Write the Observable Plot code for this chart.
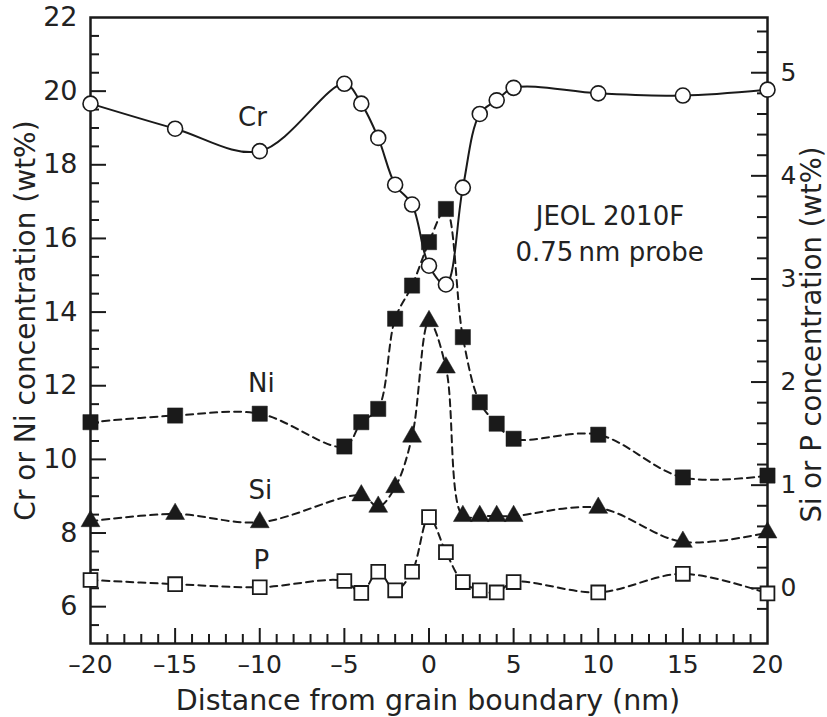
<!DOCTYPE html>
<html><head><meta charset="utf-8">
<script src="https://cdn.jsdelivr.net/npm/d3@7"></script>
<script src="https://cdn.jsdelivr.net/npm/@observablehq/plot@0.6"></script>
<style>html,body{margin:0;padding:0;background:#fff} #chart svg{display:block}</style>
</head><body><div id="chart"></div>
<script>
// ---- data ----
const crDistance = [-20,-15,-10,-5,-4,-3,-2,-1,0,1,2,3,4,5,10,15,20];
const crValues   = [19.66,18.98,18.37,20.20,19.66,18.73,17.46,16.92,15.26,14.75,17.38,19.38,19.75,20.09,19.94,19.88,20.04];
const niDistance = [-20,-15,-10,-5,-4,-3,-2,-1,0,1,2,3,4,5,10,15,20];
const niValues   = [11.01,11.19,11.24,10.35,11.01,11.37,13.82,14.72,15.90,16.80,13.32,11.55,10.97,10.56,10.67,9.51,9.56];
const siDistance = [-20,-15,-10,-4,-3,-2,-1,0,1,2,3,4,5,10,15,20];
const siValues   = [0.65,0.72,0.64,0.90,0.79,0.98,1.47,2.59,2.14,0.70,0.70,0.70,0.70,0.78,0.45,0.54];
const pDistance  = [-20,-15,-10,-5,-4,-3,-2,-1,0,1,2,3,4,5,10,15,20];
const pValues    = [0.08,0.04,0.01,0.07,-0.045,0.16,-0.02,0.16,0.69,0.35,0.06,-0.02,-0.04,0.06,-0.04,0.14,-0.05];

const xTickLabels = [-20,-15,-10,-5,0,5,10,15,20];
const leftTickLabels = [6,8,10,12,14,16,18,20,22];
const rightTickLabels = [0,1,2,3,4,5];

const seriesLabels = [
  {text: "Cr", x: -10.43, y: 19.28},
  {text: "Ni", x: -9.9, y: 12.06},
  {text: "Si", x: -9.96, y: 9.15},
  {text: "P",  x: -9.9, y: 7.25}
];
const noteLines = [
  {text: "JEOL 2010F", x: 10.69, y: 16.6},
  {text: "0.75\u2009nm probe", x: 10.67, y: 15.62}
];

const xTitle = "Distance from grain boundary (nm)";
const leftTitle = "Cr or Ni concentration (wt%)";
const rightTitle = "Si or P concentration (wt%)";

// right axis (Si, P) expressed on the left (Cr, Ni) scale
const rightToLeft = r => 6.5 + 2.8 * r;

const cr = crDistance.map((d, i) => ({d, v: crValues[i]}));
const ni = niDistance.map((d, i) => ({d, v: niValues[i]}));
const si = siDistance.map((d, i) => ({d, v: rightToLeft(siValues[i])}));
const p  = pDistance.map((d, i) => ({d, v: rightToLeft(pValues[i])}));

// minor / major tick positions
const leftMinor = d3.range(5.5, 22, 0.5).filter(v => Math.abs(v % 2) > 1e-6);
const leftMajor = leftTickLabels.filter(v => v < 22);
const xMinor = d3.range(-19, 20, 1).filter(v => v % 5 !== 0);
const xMajor = xTickLabels.filter(v => v > -20 && v < 20);
const rightMinor = d3.range(-1, 28).map(k => k * 0.2).filter(v => Math.abs(v - Math.round(v)) > 1e-6);
const rightMajor = rightTickLabels;

const W = 827, H = 717, mL = 90, mR = 60, mT = 17, mB = 74;
const fw = W - mL - mR, fh = H - mT - mB;
const ink = "#1a1a1a";

const chart = Plot.plot({
  width: W, height: H,
  marginLeft: mL, marginRight: mR, marginTop: mT, marginBottom: mB,
  x: {domain: [-20, 20]},
  y: {domain: [5, 22]},
  style: {fontFamily: "DejaVu Sans", background: "white", color: "#222"},
  marks: [
    // inward ticks
    Plot.tickY(leftMinor, {y: d => d, insetRight: fw - 9, stroke: ink, strokeWidth: 2}),
    Plot.tickY(leftMajor, {y: d => d, insetRight: fw - 16, stroke: ink, strokeWidth: 2}),
    Plot.tickY(rightMinor, {y: d => rightToLeft(d), insetLeft: fw - 10, stroke: ink, strokeWidth: 2}),
    Plot.tickY(rightMajor, {y: d => rightToLeft(d), insetLeft: fw - 16, stroke: ink, strokeWidth: 2}),
    Plot.tickX(xMinor, {x: d => d, insetTop: fh - 9, stroke: ink, strokeWidth: 2}),
    Plot.tickX(xMajor, {x: d => d, insetTop: fh - 15, stroke: ink, strokeWidth: 2}),
    Plot.frame({stroke: ink, strokeWidth: 2.5}),
    // tick labels
    Plot.axisX({ticks: xTickLabels, tickSize: 0, tickPadding: 12, fontSize: 25, label: null,
      tickFormat: d => d < 0 ? "\u2013" + Math.abs(d) : String(d)}),
    Plot.axisY({anchor: "left", ticks: leftTickLabels, tickSize: 0, tickPadding: 13, fontSize: 27, label: null}),
    Plot.axisY({anchor: "right", ticks: rightTickLabels.map(rightToLeft), tickSize: 0, tickPadding: 13, fontSize: 25, label: null,
      tickFormat: d => String(Math.round((d - 6.5) / 2.8))}),
    // axis titles
    Plot.text([xTitle], {frameAnchor: "bottom", text: d => d, dx: -1, dy: 57, fontSize: 28.5, lineAnchor: "middle", textAnchor: "middle"}),
    Plot.text([leftTitle], {frameAnchor: "left", text: d => d, rotate: -90, dx: -64, dy: -10, fontSize: 28, lineAnchor: "middle", textAnchor: "middle"}),
    Plot.text([rightTitle], {frameAnchor: "right", text: d => d, rotate: -90, dx: 45, dy: 4, fontSize: 27.5, lineAnchor: "middle", textAnchor: "middle"}),
    // lines
    Plot.line(cr, {x: "d", y: "v", curve: "catmull-rom", stroke: ink, strokeWidth: 2}),
    Plot.line(ni, {x: "d", y: "v", curve: "catmull-rom", stroke: ink, strokeWidth: 2, strokeDasharray: "7,5"}),
    Plot.line(si, {x: "d", y: "v", curve: "catmull-rom", stroke: ink, strokeWidth: 2, strokeDasharray: "7,5"}),
    Plot.line(p,  {x: "d", y: "v", curve: "catmull-rom", stroke: ink, strokeWidth: 2, strokeDasharray: "7,5"}),
    // markers
    Plot.dot(cr, {x: "d", y: "v", r: 7.5, fill: "white", stroke: ink, strokeWidth: 1.6}),
    Plot.dot(ni, {x: "d", y: "v", symbol: "square", r: 8.6, fill: ink, stroke: ink, strokeWidth: 0.5}),
    Plot.dot(si, {x: "d", y: "v", symbol: "triangle", r: 7, fill: ink, stroke: ink, strokeWidth: 0.5}),
    Plot.dot(p,  {x: "d", y: "v", symbol: "square", r: 7.8, fill: "white", stroke: ink, strokeWidth: 1.8}),
    // annotations
    Plot.text(seriesLabels, {x: "x", y: "y", text: "text", fontSize: 26, lineAnchor: "middle"}),
    Plot.text(noteLines, {x: "x", y: "y", text: "text", fontSize: 26, lineAnchor: "middle"})
  ]
});
document.getElementById("chart").appendChild(chart);
</script>
</body></html>
